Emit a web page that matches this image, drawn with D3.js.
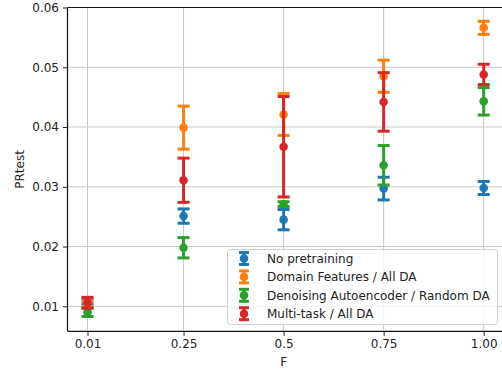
<!DOCTYPE html>
<html>
<head>
<meta charset="utf-8">
<script src="https://cdn.jsdelivr.net/npm/d3@7"></script>
<style>
  body { margin: 0; background: #fff; }
  text { font-family: "DejaVu Sans", sans-serif; }
</style>
</head>
<body>
<div id="chart"></div>
<script>
// values
var fValues = [0.01, 0.25, 0.5, 0.75, 1.0];
var fTickLabels = ["0.01", "0.25", "0.5", "0.75", "1.00"];
var yTicks = [0.01, 0.02, 0.03, 0.04, 0.05, 0.06];

var seriesNames = ["No pretraining", "Domain Features / All DA", "Denoising Autoencoder / Random DA", "Multi-task / All DA"];
var seriesColors = ["#1f77b4", "#ff7f0e", "#2ca02c", "#d62728"];

var noPretrainMean = [0.0108, 0.0251, 0.0245, 0.0297, 0.0298];
var noPretrainErr  = [0.0004, 0.0012, 0.0017, 0.0019, 0.0011];
var domainMean     = [0.0104, 0.0399, 0.0421, 0.0485, 0.0566];
var domainErr      = [0.0005, 0.0036, 0.0035, 0.0027, 0.0011];
var daeMean        = [0.0090, 0.0198, 0.0271, 0.0336, 0.0443];
var daeErr         = [0.0007, 0.0017, 0.0004, 0.0033, 0.0023];
var multiMean      = [0.0106, 0.0311, 0.0367, 0.0442, 0.0488];
var multiErr       = [0.0009, 0.0037, 0.0084, 0.0049, 0.0017];

var means = [noPretrainMean, domainMean, daeMean, multiMean];
var errs = [noPretrainErr, domainErr, daeErr, multiErr];

var width = 502, height = 369;
var plotLeft = 67.5, plotRight = 503.7, plotTop = 7.5, plotBottom = 331.3;

var svg = d3.select("#chart").append("svg")
    .attr("width", width)
    .attr("height", height);

var x = d3.scaleLinear().domain([-0.04, 1.05]).range([plotLeft, plotRight]);
var y = d3.scaleLinear().domain([0.00582, 0.06]).range([plotBottom, plotTop]);

// grid
svg.append("g").selectAll("line").data(fValues).enter().append("line")
    .attr("x1", d => x(d)).attr("x2", d => x(d))
    .attr("y1", plotTop).attr("y2", plotBottom)
    .style("stroke", "#c8c8c8").style("stroke-width", 1);
svg.append("g").selectAll("line").data(yTicks).enter().append("line")
    .attr("x1", plotLeft).attr("x2", plotRight)
    .attr("y1", d => y(d)).attr("y2", d => y(d))
    .style("stroke", "#c8c8c8").style("stroke-width", 1);

// axes
var xAxis = d3.axisBottom(x).tickValues(fValues)
    .tickFormat((d, i) => fTickLabels[i]).tickSizeInner(4.5).tickSizeOuter(0).tickPadding(4);
var yAxis = d3.axisLeft(y).tickValues(yTicks)
    .tickFormat(d3.format(".2f")).tickSizeInner(4.5).tickSizeOuter(0).tickPadding(4);

var gx = svg.append("g").attr("transform", "translate(0," + plotBottom + ")").call(xAxis);
var gy = svg.append("g").attr("transform", "translate(" + plotLeft + ",0)").call(yAxis);
[gx, gy].forEach(function(g) {
    g.select(".domain").remove();
    g.selectAll("text").style("font-size", "12px").style("fill", "#222")
        .style("font-family", "DejaVu Sans");
    g.selectAll("line").style("stroke", "#222");
});

// spines
svg.append("line").attr("x1", plotLeft).attr("x2", plotLeft).attr("y1", plotTop).attr("y2", plotBottom)
    .style("stroke", "#111").style("stroke-width", 1.2);
svg.append("line").attr("x1", plotLeft).attr("x2", plotRight).attr("y1", plotBottom).attr("y2", plotBottom)
    .style("stroke", "#111").style("stroke-width", 1.2);
svg.append("line").attr("x1", plotLeft).attr("x2", plotRight).attr("y1", plotTop).attr("y2", plotTop)
    .style("stroke", "#111").style("stroke-width", 1.2);

// error bars
var capW = 12;
means.forEach(function(m, s) {
    var col = seriesColors[s];
    var g = svg.append("g");
    var pts = fValues.map((f, i) => ({f: f, m: m[i], e: errs[s][i]}));
    g.selectAll(".bar").data(pts).enter().append("line")
        .attr("x1", d => x(d.f)).attr("x2", d => x(d.f))
        .attr("y1", d => y(d.m - d.e)).attr("y2", d => y(d.m + d.e))
        .style("stroke", col).style("stroke-width", 3);
    ["lo", "hi"].forEach(function(side) {
        g.selectAll(".cap" + side).data(pts).enter().append("line")
            .attr("x1", d => x(d.f) - capW / 2).attr("x2", d => x(d.f) + capW / 2)
            .attr("y1", d => y(side == "lo" ? d.m - d.e : d.m + d.e))
            .attr("y2", d => y(side == "lo" ? d.m - d.e : d.m + d.e))
            .style("stroke", col).style("stroke-width", 3);
    });
    g.selectAll("circle").data(pts).enter().append("circle")
        .attr("cx", d => x(d.f)).attr("cy", d => y(d.m)).attr("r", 4.3)
        .style("fill", col);
});

// legend
var lg = svg.append("g").attr("transform", "translate(227.5,249.5)");
lg.append("rect").attr("width", 270).attr("height", 75).attr("rx", 3)
    .style("fill", "white").style("fill-opacity", 0.8)
    .style("stroke", "#d0d0d0").style("stroke-width", 1);
seriesNames.forEach(function(name, i) {
    var cy = 9 + i * 18.4;
    var hx = 16.5;
    var row = lg.append("g");
    row.append("line").attr("x1", hx).attr("x2", hx).attr("y1", cy - 6).attr("y2", cy + 6)
        .style("stroke", seriesColors[i]).style("stroke-width", 3);
    [cy - 6, cy + 6].forEach(function(yy) {
        row.append("line").attr("x1", hx - 5).attr("x2", hx + 5).attr("y1", yy).attr("y2", yy)
            .style("stroke", seriesColors[i]).style("stroke-width", 3);
    });
    row.append("circle").attr("cx", hx).attr("cy", cy).attr("r", 4.3).style("fill", seriesColors[i]);
    row.append("text").attr("x", 39.5).attr("y", cy).attr("dy", "0.35em")
        .style("font-size", "12px").style("fill", "#222").text(name);
});

// axis labels
svg.append("text").attr("x", x(0.5)).attr("y", 362).attr("dy", "0.35em")
    .attr("text-anchor", "middle").style("font-size", "12px").style("fill", "#222").text("F");
svg.append("text").attr("transform", "translate(20," + ((plotTop + plotBottom) / 2) + ") rotate(-90)")
    .attr("dy", "0.35em").attr("text-anchor", "middle")
    .style("font-size", "12px").style("fill", "#222").text("PRtest");
</script>
</body>
</html>
